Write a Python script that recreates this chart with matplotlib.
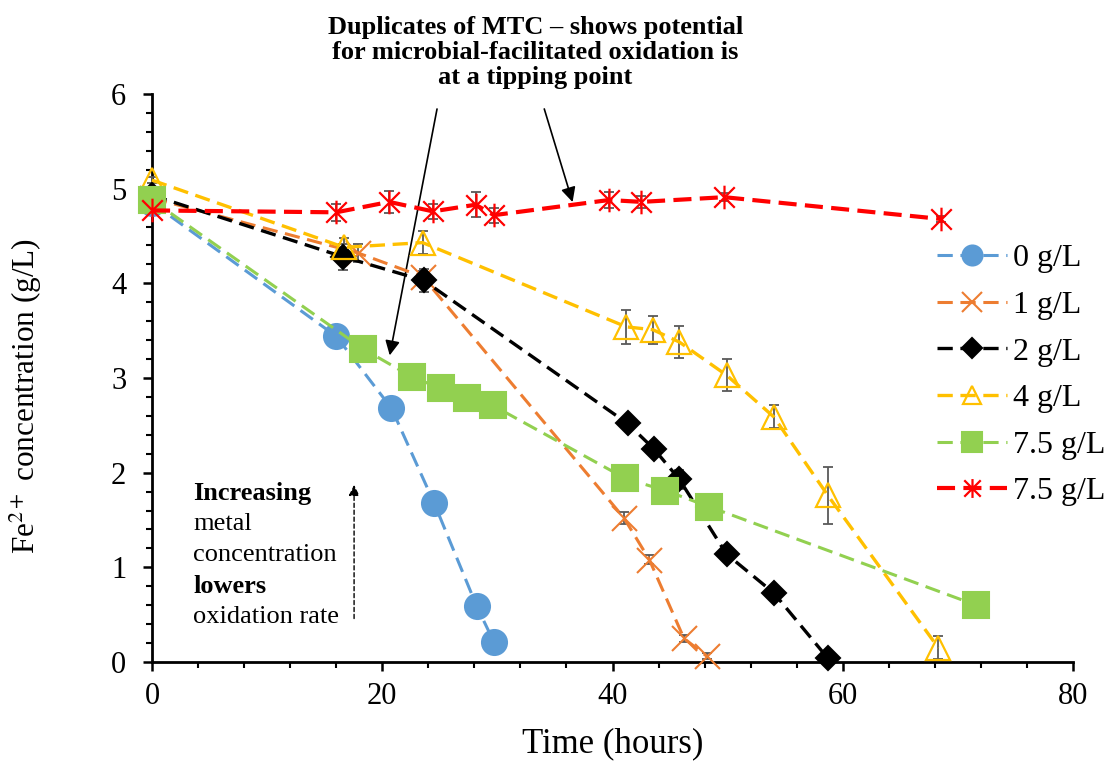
import numpy as np
import matplotlib.pyplot as plt
from matplotlib.path import Path

plt.rcParams['font.family'] = ['Liberation Serif', 'DejaVu Serif']
plt.rcParams['mathtext.fontset'] = 'stix'
plt.rcParams['lines.scale_dashes'] = False

# data (time in hours, Fe2+ in g/L)
t0 = [0, 16.0, 20.8, 24.5, 28.2, 29.7]
y0 = [4.85, 3.44, 2.68, 1.68, 0.59, 0.21]
e0 = [0.03, 0.06, 0.03, 0.03, 0.03, 0.03]

t1 = [0, 17.9, 23.5, 41.0, 43.2, 46.2, 48.2]
y1 = [4.9, 4.32, 4.07, 1.52, 1.08, 0.25, 0.06]
e1 = [0.03, 0.1, 0.06, 0.06, 0.05, 0.04, 0.03]

t2 = [0, 16.6, 23.6, 41.3, 43.6, 45.8, 49.9, 54.0, 58.7]
y2 = [4.93, 4.28, 4.03, 2.52, 2.25, 1.93, 1.14, 0.73, 0.04]
e2 = [0.03, 0.14, 0.12, 0.03, 0.03, 0.1, 0.04, 0.03, 0.02]

t4 = [0, 16.7, 23.5, 41.2, 43.5, 45.8, 49.9, 54.0, 58.7, 68.3]
y4 = [5.09, 4.38, 4.43, 3.54, 3.51, 3.38, 3.03, 2.59, 1.76, 0.15]
e4 = [0.03, 0.1, 0.12, 0.18, 0.15, 0.17, 0.17, 0.12, 0.30, 0.12]

t75 = [0, 18.3, 22.6, 25.1, 27.4, 29.6, 41.1, 44.6, 48.4, 71.6]
y75 = [4.88, 3.31, 3.01, 2.89, 2.79, 2.71, 1.94, 1.81, 1.64, 0.60]

t75b = [0, 16.0, 20.6, 24.4, 28.1, 29.7, 39.7, 42.5, 49.7, 68.5]
y75b = [4.77, 4.75, 4.86, 4.76, 4.83, 4.72, 4.88, 4.86, 4.91, 4.68]
e75b = [0.03, 0.09, 0.12, 0.08, 0.13, 0.08, 0.08, 0.06, 0.04, 0.03]

labels = ['0 g/L', '1 g/L', '2 g/L', '4 g/L', '7.5 g/L', '7.5 g/L']

# excel style star marker: x plus vertical bar
star = Path([(-1, -1), (1, 1), (-1, 1), (1, -1), (0, -1.15), (0, 1.15)],
            [Path.MOVETO, Path.LINETO, Path.MOVETO, Path.LINETO, Path.MOVETO, Path.LINETO])

fig = plt.figure(figsize=(11.13, 7.64), dpi=100)
ax = fig.add_axes([0.1366, 0.1335, 0.8275, 0.7435])

ecol = '#595959'
dash = (11, 5.5)

def series(t, y, e, color, marker, ms, label, mfc=None, mew=1.5, lw=2.2, dsh=dash):
    if e is not None:
        ax.errorbar(t, y, yerr=e, fmt='none', ecolor=ecol, elinewidth=1.3,
                    capsize=3.5, capthick=1.3, zorder=3, clip_on=False)
    ax.plot(t, y, color=color, lw=lw, dashes=dsh, marker=marker, ms=ms,
            mfc=mfc if mfc else color, mec=color, mew=mew, label=label,
            clip_on=False, zorder=4)

series(t0, y0, e0, '#5B9BD5', 'o', 18, labels[0], lw=2.2)
series(t1, y1, e1, '#ED7D31', 'x', 18, labels[1], lw=2.2)
series(t2, y2, e2, 'black', 'D', 12.5, labels[2], lw=2.4)
series(t4, y4, e4, '#FFC000', '^', 17, labels[3], mfc='none', mew=1.6, lw=2.4)
series(t75, y75, None, '#92D050', 's', 18.5, labels[4], lw=2.2)
series(t75b, y75b, e75b, '#FF0000', star, 17, labels[5], mew=1.6, lw=3.0, dsh=(13, 6))

ax.set_xlim(0, 80)
ax.set_ylim(0, 6)
ax.set_xticks(np.arange(0, 81, 20))
ax.set_xticks(np.arange(0, 81, 4), minor=True)
ax.set_yticks(np.arange(0, 7, 1))
ax.set_yticks(np.arange(0, 6.01, 0.2), minor=True)
for s in ['top', 'right']:
    ax.spines[s].set_visible(False)
for s in ['left', 'bottom']:
    ax.spines[s].set_linewidth(2.0)
ax.tick_params(which='major', length=6.5, width=1.8, labelsize=22, direction='out')
ax.tick_params(which='minor', length=4, width=1.5, direction='out')
ax.tick_params(axis='y', pad=12)
ax.tick_params(axis='x', pad=8)

ax.set_xlabel('Time (hours)', fontsize=25)
ax.xaxis.set_label_coords(0.5, -0.115)
ax.set_ylabel(r'Fe$^{2+}$ concentration (g/L)', fontsize=22.5)
ax.yaxis.set_label_coords(-0.117, 0.468)

leg = ax.legend(loc='upper left', bbox_to_anchor=(0.852, 0.736), frameon=False,
                fontsize=23, handlelength=2.2, handletextpad=0.2,
                labelspacing=0.54, borderaxespad=0, borderpad=0, markerscale=0.8)

# annotations
fig.text(0.481, 0.931, 'Duplicates of MTC \u2013 shows potential\nfor microbial-facilitated oxidation is\nat a tipping point',
         ha='center', va='center', fontsize=19, fontweight='bold', linespacing=1.12)
ax.annotate('', xy=(20.6, 3.21), xytext=(24.8, 5.87),
            arrowprops=dict(arrowstyle='-|>', color='black', lw=1.2, mutation_scale=22),
            annotation_clip=False)
ax.annotate('', xy=(36.6, 4.83), xytext=(34.0, 5.87),
            arrowprops=dict(arrowstyle='-|>', color='black', lw=1.2, mutation_scale=22),
            annotation_clip=False)
ax.annotate('', xy=(17.55, 1.9), xytext=(17.55, 0.43),
            arrowprops=dict(arrowstyle='-|>', color='black', lw=1.0, ls=(0, (3, 2)),
                            mutation_scale=16))

lines = [('Increasing', 'bold'), ('metal', 'normal'), ('concentration', 'normal'),
         ('lowers', 'bold'), ('oxidation rate', 'normal')]
for i, (txt, w) in enumerate(lines):
    ax.text(3.6, 1.78 - i * 0.327, txt, fontsize=19, fontweight=w, va='center', ha='left')

fig.savefig('out.png', dpi=100)
